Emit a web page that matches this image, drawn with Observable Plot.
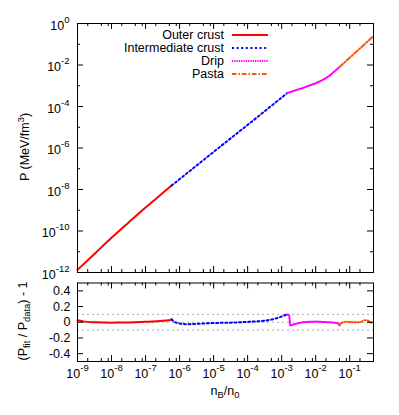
<!DOCTYPE html>
<html>
<head>
<meta charset="utf-8">
<script src="https://cdn.jsdelivr.net/npm/d3@7"></script>
<script src="https://cdn.jsdelivr.net/npm/@observablehq/plot@0.6"></script>
<style>
  html, body { margin: 0; padding: 0; background: #fff; }
  #wrap { position: relative; width: 399px; height: 415px; font-family: "Liberation Sans", Arial, Helvetica, sans-serif; }
  #wrap svg { position: absolute; left: 0; }
  .lbl { position: absolute; white-space: nowrap; font-size: 12.5px; color: #000; line-height: 1; }
  .lbl sup, .lbl sub { font-size: 75%; line-height: 0; }
</style>
</head>
<body>
<div id="wrap"></div>
<script>
// ---------- data ----------
// Equation of state P(n_B) by region
const outerN   = [1e-9, 3.2e-9, 1e-8, 3.2e-8, 1e-7, 3.2e-7, 5.8e-7];
const outerP   = [1.35e-12, 8.1e-12, 4.7e-11, 2.6e-10, 1.35e-9, 6.8e-9, 1.55e-8];
const interN   = [5.8e-7, 3.2e-6, 1e-5, 3.2e-5, 1e-4, 3.2e-4, 1e-3, 1.45e-3];
const interP   = [1.55e-8, 1.45e-7, 6.5e-7, 2.95e-6, 1.3e-5, 6.0e-5, 2.7e-4, 4.4e-4];
const dripN    = [1.45e-3, 2.5e-3, 4e-3, 6.3e-3, 1e-2, 1.6e-2, 2.5e-2, 3.5e-2, 5e-2];
const dripP    = [4.4e-4, 6.0e-4, 7.6e-4, 1.0e-3, 1.32e-3, 1.9e-3, 3.0e-3, 4.8e-3, 7.9e-3];
const pastaN   = [5e-2, 0.1, 0.2, 0.5];
const pastaP   = [7.9e-3, 2.25e-2, 6.3e-2, 0.25];

// Relative fit residuals (P_fit / P_data) - 1
const outerRN  = [1e-9, 1.6e-9, 3.2e-9, 1e-8, 3.2e-8, 1e-7, 3.2e-7, 5.8e-7];
const outerR   = [0.025, 0.008, 0.0, -0.005, -0.003, 0.005, 0.018, 0.03];
const interRN  = [5.8e-7, 7e-7, 1e-6, 1.6e-6, 3.2e-6, 1e-5, 3.2e-5, 1e-4, 3.2e-4, 6.3e-4, 1.1e-3, 1.45e-3];
const interR   = [0.04, 0.005, -0.015, -0.025, -0.02, -0.01, -0.005, 0.005, 0.02, 0.045, 0.08, 0.1];
const dripRN   = [1.45e-3, 1.65e-3, 1.8e-3, 2.2e-3, 3.2e-3, 6.3e-3, 1e-2, 1.6e-2, 2.5e-2, 3.5e-2, 4.8e-2, 5e-2];
const dripR    = [0.1, 0.09, -0.04, -0.03, -0.01, 0.005, 0.008, 0.003, 0.0, -0.005, -0.02, -0.04];
const pastaRN  = [5e-2, 5.6e-2, 7.9e-2, 0.126, 0.19, 0.28, 0.35, 0.43, 0.5];
const pastaR   = [-0.04, -0.01, 0.005, 0.0, 0.0, 0.025, 0.02, -0.005, 0.0];

// reference lines in the residual panel
const refLines = [0.1, 0, -0.1];

// ticks
const xMajor    = [1e-9, 1e-8, 1e-7, 1e-6, 1e-5, 1e-4, 1e-3, 1e-2, 1e-1];
const xMinorMul = [2, 5, 8];
const yTopMajor = [1, 1e-2, 1e-4, 1e-6, 1e-8, 1e-10, 1e-12];
const yTopMinor = [1e-1, 1e-3, 1e-5, 1e-7, 1e-9, 1e-11];
const yBotTicks = [0.4, 0.2, 0, -0.2, -0.4];

// series styling
const series = [
  {name: "Outer crust",        color: "#ff0000", dash: null,          n: outerN, p: outerP, rn: outerRN, r: outerR},
  {name: "Intermediate crust", color: "#0000ff", dash: "2,2.6",       n: interN, p: interP, rn: interRN, r: interR},
  {name: "Drip",               color: "#ff00ff", dash: "1.3,1",       n: dripN,  p: dripP,  rn: dripRN,  r: dripR},
  {name: "Pasta",              color: "#ff5500", dash: "4.5,2,1.5,2", n: pastaN, p: pastaP, rn: pastaRN, r: pastaR}
];

// ---------- layout ----------
const W = 399, marL = 77, marR = 26;
const frameW = W - marL - marR;
const topH = 292, topMT = 23, topMB = 20;
const botTop = 277, botH = 138, botMT = 5.5, botMB = 54;
const H1 = topH - topMT - topMB;
const H2 = botH - botMT - botMB;
const xDomain = [1e-9, 0.5];
const FONT = "Liberation Sans, Arial, Helvetica, sans-serif";

const xMinor = xMajor.flatMap(d => xMinorMul.map(m => d * m)).concat(xMinorMul.map(m => 1e-10 * m))
  .filter(v => v > xDomain[0] && v < xDomain[1]);
const pow10 = d => "10^" + Math.round(Math.log10(d));

function lines(key, valKey) {
  return series.map(s => Plot.line(s[key].map((x, i) => ({x, y: s[valKey][i]})), {
    x: "x", y: "y", stroke: s.color, strokeWidth: 2,
    strokeDasharray: s.dash, curve: "monotone-x"
  }));
}

function ticksX(H) {
  return [
    Plot.ruleX(xMajor, {insetTop: H - 6, stroke: "black"}),
    Plot.ruleX(xMajor, {insetBottom: H - 6, stroke: "black"}),
    Plot.ruleX(xMinor, {insetTop: H - 3, stroke: "black"}),
    Plot.ruleX(xMinor, {insetBottom: H - 3, stroke: "black"})
  ];
}

function supify(svg) {
  d3.select(svg).selectAll("text").each(function() {
    const m = /^10\^(.+)$/.exec(this.textContent);
    if (!m) return;
    const sel = d3.select(this);
    sel.text(null);
    sel.append("tspan").text("10");
    sel.append("tspan").attr("dy", "-7").attr("font-size", "9.5px").text(m[1]);
  });
}

const topPlot = Plot.plot({
  width: W, height: topH,
  marginLeft: marL, marginRight: marR, marginTop: topMT, marginBottom: topMB,
  style: {fontFamily: FONT, fontSize: "12.5px", color: "black", background: "transparent"},
  x: {type: "log", domain: xDomain, axis: null},
  y: {type: "log", domain: [1e-12, 1], axis: null},
  marks: [
    ...lines("n", "p"),
    ...ticksX(H1),
    Plot.ruleY(yTopMajor, {insetRight: frameW - 6, stroke: "black"}),
    Plot.ruleY(yTopMajor, {insetLeft: frameW - 6, stroke: "black"}),
    Plot.ruleY(yTopMinor, {insetRight: frameW - 3, stroke: "black"}),
    Plot.ruleY(yTopMinor, {insetLeft: frameW - 3, stroke: "black"}),
    Plot.axisY({ticks: yTopMajor, tickSize: 0, tickPadding: 8, tickFormat: pow10, label: null, dy: 2, fontSize: 12.5}),
    Plot.frame({stroke: "black"})
  ]
});
topPlot.style.top = "0px";

const botPlot = Plot.plot({
  width: W, height: botH,
  marginLeft: marL, marginRight: marR, marginTop: botMT, marginBottom: botMB,
  style: {fontFamily: FONT, fontSize: "12.5px", color: "black", background: "transparent"},
  x: {type: "log", domain: xDomain, axis: null},
  y: {domain: [-0.5, 0.5], axis: null},
  marks: [
    Plot.ruleY(refLines, {stroke: "#aaaaaa", strokeDasharray: "2,3"}),
    ...lines("rn", "r"),
    ...ticksX(H2),
    Plot.ruleY(yBotTicks, {insetRight: frameW - 6, stroke: "black"}),
    Plot.ruleY(yBotTicks, {insetLeft: frameW - 6, stroke: "black"}),
    Plot.axisY({ticks: yBotTicks, tickSize: 0, tickPadding: 7, tickFormat: d => d === 0 ? "0" : d.toFixed(1), label: null, fontSize: 12.5}),
    Plot.axisX({ticks: xMajor, tickSize: 0, tickPadding: 8, tickFormat: pow10, label: null, fontSize: 12.5}),
    Plot.frame({stroke: "black"})
  ]
});
botPlot.style.top = botTop + "px";

supify(topPlot); supify(botPlot);

const wrap = document.getElementById("wrap");
wrap.appendChild(topPlot);
wrap.appendChild(botPlot);

// legend (inside the upper panel, top right)
const leg = d3.create("svg").attr("width", W).attr("height", 90)
  .style("top", "0px").style("font-family", FONT).style("font-size", "12.5px");
series.forEach((s, i) => {
  const y = 35 + i * 13;
  leg.append("text").attr("x", 224).attr("y", y).attr("dy", "0.35em")
    .attr("text-anchor", "end").attr("fill", "black").text(s.name);
  leg.append("line").attr("x1", 232).attr("x2", 268).attr("y1", y).attr("y2", y)
    .attr("stroke", s.color).attr("stroke-width", 2)
    .attr("stroke-dasharray", s.dash);
});
wrap.appendChild(leg.node());

// axis titles
function addLabel(html, x, y, rotate) {
  const d = document.createElement("div");
  d.className = "lbl";
  d.innerHTML = html;
  d.style.left = x + "px";
  d.style.top = y + "px";
  d.style.transform = "translate(-50%,-50%)" + (rotate ? " rotate(-90deg)" : "");
  wrap.appendChild(d);
}
addLabel("P (MeV/fm<sup>3</sup>)", 25, 147, true);
addLabel("(P<sub>fit</sub> / P<sub>data</sub>) - 1", 23, 321, true);
addLabel("n<sub>B</sub>/n<sub>0</sub>", 225, 391, false);
</script>
</body>
</html>
